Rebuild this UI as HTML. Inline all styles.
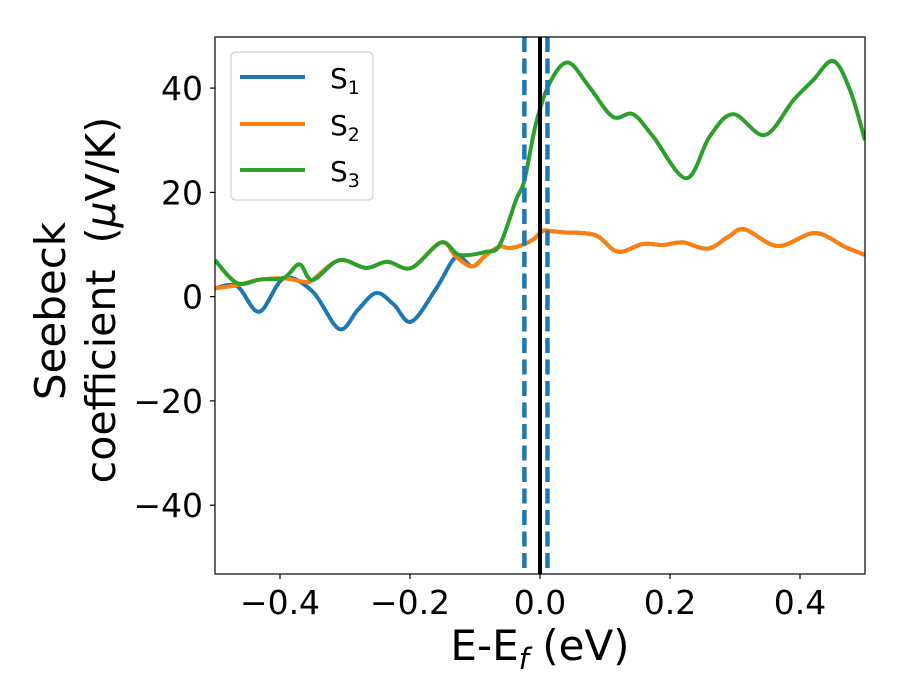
<!DOCTYPE html>
<html><head><meta charset="utf-8"><style>
body{margin:0;background:#fff;}
svg{display:block;font-family:"DejaVu Sans","Liberation Sans",sans-serif;}
</style></head><body>
<svg id="chart" width="900" height="700"></svg>
<script>
const xTicks=[-0.4,-0.2,0.0,0.2,0.4];
const xTickLabels=["\u22120.4","\u22120.2","0.0","0.2","0.4"];
const yTicks=[-40,-20,0,20,40];
const yTickLabels=["\u221240","\u221220","0","20","40"];
const s1E=[-0.5,-0.466,-0.432,-0.394,-0.35,-0.309,-0.28,-0.252,-0.225,-0.198,-0.16,-0.129,-0.104,-0.083,-0.062,-0.047,-0.027,-0.01,0.004,0.015,0.04,0.066,0.09,0.12,0.158,0.189,0.22,0.258,0.29,0.315,0.366,0.423,0.47,0.5];
const s1V=[1.6,2.0,-2.9,3.5,1.0,-6.2,-2.5,0.7,-1.5,-4.8,1.5,7.6,5.8,8.0,9.6,9.3,9.9,11.0,12.6,12.6,12.3,12.2,11.5,8.6,10.1,9.9,10.4,9.2,11.5,12.9,9.7,12.2,9.5,8.0];
const s2E=[-0.5,-0.466,-0.43,-0.394,-0.36,-0.35,-0.309,-0.268,-0.235,-0.198,-0.152,-0.129,-0.104,-0.083,-0.062,-0.047,-0.027,-0.01,0.004,0.015,0.04,0.066,0.09,0.12,0.158,0.189,0.22,0.258,0.29,0.315,0.366,0.423,0.47,0.5];
const s2V=[1.6,2.2,3.3,3.5,2.8,3.2,7.0,5.5,6.7,5.5,10.4,7.6,5.8,8.0,9.6,9.3,9.9,11.0,12.6,12.6,12.3,12.2,11.5,8.6,10.1,9.9,10.4,9.2,11.5,12.9,9.7,12.2,9.5,8.0];
const s3E=[-0.5,-0.466,-0.43,-0.394,-0.37,-0.35,-0.309,-0.268,-0.235,-0.198,-0.152,-0.124,-0.083,-0.062,-0.037,-0.024,-0.006,0.015,0.043,0.076,0.112,0.143,0.174,0.225,0.261,0.297,0.346,0.39,0.42,0.451,0.477,0.5];
const s3V=[7.0,2.6,3.3,3.6,6.2,3.2,7.0,5.5,6.7,5.5,10.4,8.0,8.6,9.9,18.5,22.3,33.3,41.0,44.9,40.2,34.5,35.0,30.7,22.7,30.7,35.0,31.0,37.7,41.5,45.2,39.6,30.0];
const vLinesDashed=[-0.024,0.0115];
const vLineSolid=[0.0];

const NS="http://www.w3.org/2000/svg";
const svg=document.getElementById('chart');
const L=215,R=865,T=37,B=574,xmin=-0.5,xmax=0.5,ymin=-53.2,ymax=49.8;
const X=e=>L+(e-xmin)/(xmax-xmin)*(R-L);
const Y=v=>B-(v-ymin)/(ymax-ymin)*(B-T);
function el(t,a,p){const e=document.createElementNS(NS,t);for(const k in a)e.setAttribute(k,a[k]);(p||svg).appendChild(e);return e;}
const defs=el('defs',{});const cp=el('clipPath',{id:'cp'},defs);el('rect',{x:L,y:T,width:R-L,height:B-T},cp);
function path(es,vs){const p=es.map((e,i)=>[X(e),Y(vs[i])]);let d=`M${p[0][0]},${p[0][1]}`;
for(let i=0;i<p.length-1;i++){const p0=p[i-1]||p[i],p1=p[i],p2=p[i+1],p3=p[i+2]||p2;
d+=`C${p1[0]+(p2[0]-p0[0])/6},${p1[1]+(p2[1]-p0[1])/6} ${p2[0]-(p3[0]-p1[0])/6},${p2[1]-(p3[1]-p1[1])/6} ${p2[0]},${p2[1]}`;}return d;}
const g=el('g',{'clip-path':'url(#cp)'});
let s;
s=el('path',{d:path(s1E,s1V),fill:'none',stroke:'#1f77b4','stroke-width':4},g);


s=el('path',{d:path(s2E,s2V),fill:'none',stroke:'#ff7f0e','stroke-width':4},g);


s=el('path',{d:path(s3E,s3V),fill:'none',stroke:'#2ca02c','stroke-width':4},g);


vLineSolid.forEach(e=>{const l=el('line',{x1:X(e),x2:X(e),y1:T,y2:B,stroke:'#000','stroke-width':4},g);

});
vLinesDashed.forEach(e=>{const l=el('line',{x1:X(e),x2:X(e),y1:T,y2:B,stroke:'#1f77b4','stroke-width':4.5,'stroke-dasharray':'15,6.5'},g);

});
const fr=el('rect',{x:L,y:T,width:R-L,height:B-T,fill:'none',stroke:'#000','stroke-width':1.2});


xTicks.forEach((t,i)=>{el('line',{x1:X(t),x2:X(t),y1:B,y2:B+5,stroke:'#000','stroke-width':1.2});
const tx=el('text',{x:X(t),y:B+40,'font-size':33,'text-anchor':'middle'});tx.textContent=xTickLabels[i];

});
yTicks.forEach((t,i)=>{el('line',{x1:L-5,x2:L,y1:Y(t),y2:Y(t),stroke:'#000','stroke-width':1.2});
const tx=el('text',{x:L-12,y:Y(t)+12,'font-size':33,'text-anchor':'end'});tx.textContent=yTickLabels[i];

});
</script>
<svg style="position:absolute;left:0;top:0" width="900" height="700">
<text x="540" y="660" font-size="42" text-anchor="middle" font-family="DejaVu Sans,sans-serif">E-E<tspan font-style="italic" font-size="29" dy="9">f</tspan><tspan dy="-9"> (eV)</tspan></text>
<g transform="translate(65,311) rotate(-90)" font-family="DejaVu Sans,sans-serif">
<text x="0" y="0" font-size="42" text-anchor="middle">Seebeck</text>
<text x="11" y="50" font-size="41" text-anchor="middle" style="white-space:pre">coefficient  (<tspan font-style="italic">μ</tspan>V/K)</text>
</g>
<g font-family="DejaVu Sans,sans-serif">
<rect x="231" y="52" width="142" height="148" rx="5" fill="#fff" fill-opacity="0.8" stroke="#d0d0d0" stroke-width="1.2"/>
<line x1="240" x2="305" y1="77" y2="77" stroke="#1f77b4" stroke-width="4"/>
<text x="330" y="88" font-size="28">S<tspan font-size="19" dy="6">1</tspan></text>
<line x1="240" x2="305" y1="124" y2="124" stroke="#ff7f0e" stroke-width="4"/>
<text x="330" y="135" font-size="28">S<tspan font-size="19" dy="6">2</tspan></text>
<line x1="240" x2="305" y1="170" y2="170" stroke="#2ca02c" stroke-width="4"/>
<text x="330" y="181" font-size="28">S<tspan font-size="19" dy="6">3</tspan></text>
</g>
</svg>
</body></html>
